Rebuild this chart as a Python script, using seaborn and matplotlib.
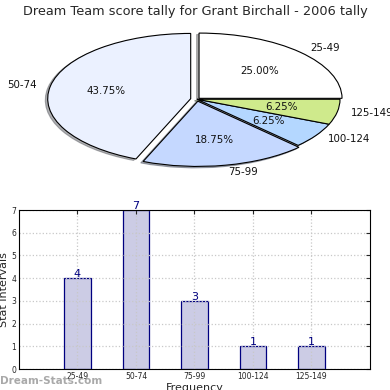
import matplotlib
matplotlib.use("Agg")
import matplotlib.pyplot as plt
import seaborn as sns
import pandas as pd

categories = ["25-49", "50-74", "75-99", "100-124", "125-149"]
counts = [4, 7, 3, 1, 1]
pie_colors = ["#FFFFFF", "#EBF1FF", "#C5D8FF", "#B4D7FF", "#CFEA8C"]
explode = [0.02, 0.045, 0.03, 0.0, 0.0]
title = "Dream Team score tally for Grant Birchall - 2006 tally"
yticks = [0, 1, 2, 3, 4, 5, 6, 7]

sns.set_style("white")
plt.rcParams["font.family"] = ["DejaVu Sans"]

fig = plt.figure(figsize=(3.9, 3.9), dpi=100)

# Pie
axp = fig.add_axes([0.0285, 0.528, 0.9533, 0.435])
wedges, texts, autotexts = axp.pie(
    counts, labels=categories, colors=pie_colors, explode=explode,
    autopct="%1.2f%%", shadow={"ox": -0.012, "oy": -0.016, "shade": 0.6},
    startangle=0,
    wedgeprops=dict(edgecolor="black", linewidth=0.8),
    textprops=dict(fontsize=7.4, color="#111111"))
axp.set_aspect("auto")
axp.set_xlim(-1.3, 1.3)
axp.set_ylim(-1.3, 1.3)
axp.axis("off")

fig.text(0.5, 1 - 11 / 390, title, ha="center", va="center", fontsize=9.3)

# Bars
axb = fig.add_axes([0.0487, 0.0538, 0.9, 0.4077])
df = pd.DataFrame({"cat": categories, "count": counts})
sns.barplot(data=df, x="cat", y="count", ax=axb, color="#CCCCE5",
            edgecolor="#000080", linewidth=0.9, width=0.45, saturation=1)
for p, v in zip(axb.patches, counts):
    axb.text(p.get_x() + p.get_width() / 2, v - 0.05, str(v), ha="center",
             va="bottom", fontsize=8, color="#000080")
axb.set_xlim(-1, 5)
axb.set_ylim(0, 7)
axb.set_yticks(yticks)
axb.grid(True, linestyle=":", color="#C8C8C8", linewidth=0.9)
axb.set_axisbelow("line")
for s in axb.spines.values():
    s.set_color("black")
    s.set_linewidth(0.8)
    s.set_zorder(3)
axb.tick_params(axis="both", labelsize=5.5, direction="in", length=3,
                top=True, right=True, pad=2)
axb.set_ylabel("Stat Intervals", fontsize=8, labelpad=2)
axb.set_xlabel("Frequency", fontsize=8, labelpad=1.5)

fig.text(0.0, 1 - 381 / 390, "Dream-Stats.com", ha="left", va="center",
         fontsize=7.5, fontweight="bold", color="#A0A0A0", alpha=0.9)

fig.savefig("out.png", dpi=100)
